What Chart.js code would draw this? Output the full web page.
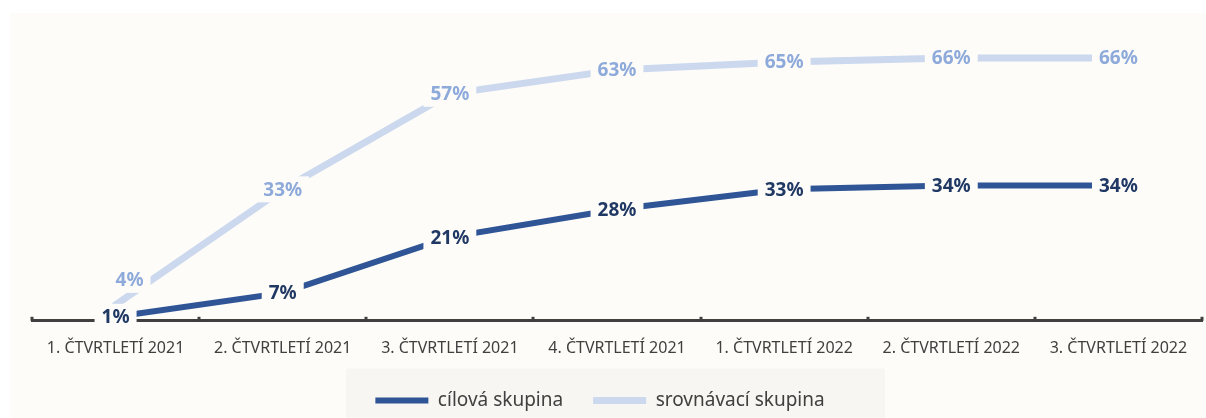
<html>
<head>
<meta charset="utf-8">
<title>Čtvrtletní vývoj</title>
<script src="https://cdn.jsdelivr.net/npm/chart.js"></script>
<style>
    body {
        margin: 0;
        background: #ffffff;
        font-family: "Noto Sans";
    }
    #wrap {
        position: absolute;
        left: 10px;
        top: 13px;
        width: 1196px;
        height: 405px;
        background: #fdfcf8;
    }
</style>
</head>
<body>
<div id="wrap"><canvas id="chart" width="1196" height="405"></canvas></div>
<script>
const quarters = [
    '1. ČTVRTLETÍ 2021', '2. ČTVRTLETÍ 2021', '3. ČTVRTLETÍ 2021', '4. ČTVRTLETÍ 2021',
    '1. ČTVRTLETÍ 2022', '2. ČTVRTLETÍ 2022', '3. ČTVRTLETÍ 2022'
];
const targetGroup = [1, 7, 21, 28, 33, 34, 34];
const compareGroup = [4, 33, 57, 63, 65, 66, 66];
const seriesNames = ['cílová skupina', 'srovnávací skupina'];

const bg = '#fdfcf8';
const axisColor = '#404040';

// value labels sit on a box of the background colour, so the line breaks around them
const pointLabels = {
    id: 'pointLabels',
    afterDatasetsDraw(chart) {
        const ctx = chart.ctx;
        ctx.save();
        ctx.font = 'bold 19px "Noto Sans"';
        ctx.textAlign = 'center';
        ctx.textBaseline = 'middle';
        for (let i = chart.data.datasets.length - 1; i >= 0; i--) {
            const ds = chart.data.datasets[i];
            const meta = chart.getDatasetMeta(i);
            meta.data.forEach((pt, j) => {
                const shift = (ds.labelShift || {})[j] || [0, 0];
                const x = pt.x + shift[0];
                const y = pt.y + shift[1];
                const text = ds.data[j] + '%';
                const w = ctx.measureText(text).width;
                ctx.fillStyle = bg;
                ctx.fillRect(x - w / 2 - 7, y - 13, w + 14, 26);
                ctx.fillStyle = ds.labelColor;
                ctx.fillText(text, x, y + 1);
            });
        }
        ctx.restore();
    }
};

// small upward ticks between categories and the grey legend panel
const axisExtras = {
    id: 'axisExtras',
    afterLayout(chart) {
        // pull the legend a bit left of the plot centre and slightly down
        const lg = chart.legend;
        lg.left -= 17;
        lg.right -= 17;
        lg.top += 2;
        lg.bottom += 2;
    },
    beforeDraw(chart) {
        const lg = chart.legend;
        const boxes = lg.legendHitBoxes;
        if (!boxes.length) return;
        const cx = (lg.left + lg.right) / 2;
        const cy = boxes[0].top + boxes[0].height / 2;
        const ctx = chart.ctx;
        ctx.save();
        ctx.fillStyle = '#f7f6f2';
        ctx.fillRect(cx - 254, cy - 32, 539, chart.height - (cy - 32));
        ctx.restore();
    },
    beforeDatasetsDraw(chart) {
        const xs = chart.scales.x;
        const step = (xs.right - xs.left) / quarters.length;
        const ctx = chart.ctx;
        ctx.save();
        ctx.strokeStyle = axisColor;
        ctx.lineWidth = 3;
        for (let i = 0; i <= quarters.length; i++) {
            const x = Math.round(xs.left + i * step);
            ctx.beginPath();
            ctx.moveTo(x, xs.top);
            ctx.lineTo(x, xs.top - 4);
            ctx.stroke();
        }
        ctx.restore();
    }
};

new Chart(document.getElementById('chart'), {
    type: 'line',
    data: {
        labels: quarters,
        datasets: [
            {
                label: seriesNames[0],
                data: targetGroup,
                borderColor: '#2f5597',
                backgroundColor: '#2f5597',
                borderWidth: 6,
                borderCapStyle: 'round',
                pointRadius: 0,
                labelColor: '#203864'
            },
            {
                label: seriesNames[1],
                data: compareGroup,
                borderColor: '#cbd8ee',
                backgroundColor: '#cbd8ee',
                borderWidth: 7,
                borderCapStyle: 'round',
                pointRadius: 0,
                labelColor: '#8eaadb',
                labelShift: { 0: [14, -25] }
            }
        ]
    },
    options: {
        responsive: false,
        animation: false,
        layout: {
            padding: { left: 22, right: 4, top: 29, bottom: 0 }
        },
        plugins: {
            legend: {
                position: 'bottom',
                labels: {
                    usePointStyle: true,
                    pointStyle: 'line',
                    pointStyleWidth: 53,
                    padding: 30,
                    color: axisColor,
                    font: { family: 'Noto Sans', size: 19 }
                }
            },
            tooltip: { enabled: false }
        },
        scales: {
            x: {
                offset: true,
                border: { color: axisColor, width: 3 },
                grid: { display: false, drawTicks: false },
                ticks: {
                    color: axisColor,
                    font: { family: 'Noto Sans', size: 16 },
                    padding: 18,
                    maxRotation: 0,
                    autoSkip: false
                },
                afterFit(scale) {
                    scale.height -= 17;
                }
            },
            y: {
                display: false,
                min: 0,
                max: 70
            }
        }
    },
    plugins: [pointLabels, axisExtras]
});
</script>
</body>
</html>
